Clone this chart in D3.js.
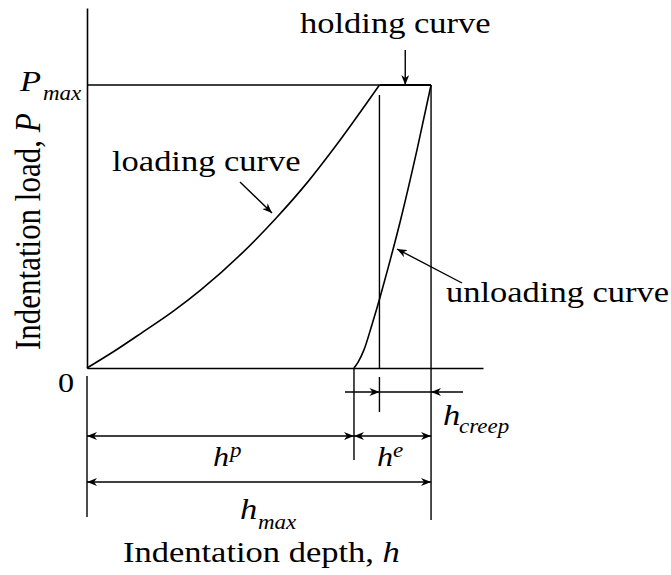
<!DOCTYPE html>
<html>
<head>
<meta charset="utf-8">
<script src="https://cdnjs.cloudflare.com/ajax/libs/d3/7.8.5/d3.min.js"></script>
<style>
  body { margin: 0; background: #fff; }
  text { font-family: "Liberation Serif", "Times New Roman", serif; fill: #000; }
</style>
</head>
<body>
<svg id="chart" width="671" height="575"></svg>
<script>

// curve data, depth in units of h_max, load in units of P_max
var loadDepth = [0, 0.08, 0.16, 0.25, 0.33, 0.45, 0.55, 0.64, 0.72, 0.85];
var loadLoad  = [0, 0.06, 0.125, 0.2, 0.275, 0.405, 0.53, 0.655, 0.78, 1.0];

var holdDepth = [0.85, 1.0];
var holdLoad  = [1.0, 1.0];

var unloadDepth = [0.776, 0.788, 0.805, 0.828, 0.852, 0.875, 0.91, 0.959, 1.0];
var unloadLoad  = [0, 0.021, 0.064, 0.152, 0.251, 0.353, 0.516, 0.77, 1.0];

// key depths / loads
var hp = 0.776, hHold = 0.85, hmax = 1.0, pmax = 1.0;

window.addEventListener('load', drawChart);

function drawChart() {
    var svg = d3.select('#chart');

    var x = d3.scaleLinear().domain([0, 1.151]).range([87, 483]);
    var y = d3.scaleLinear().domain([0, 1.272]).range([368, 8]);

    // arrow head
    svg.append('defs').append('marker')
        .attr('id', 'head')
        .attr('viewBox', '0 0 10 8')
        .attr('refX', 10).attr('refY', 4)
        .attr('markerWidth', 10).attr('markerHeight', 8)
        .attr('markerUnits', 'userSpaceOnUse')
        .attr('orient', 'auto-start-reverse')
        .append('path').attr('d', 'M0,0 L10,4 L0,8 L3,4 z').attr('fill', '#000');

    // axes without ticks
    svg.append('g').attr('transform', 'translate(0,' + y(0) + ')')
        .call(d3.axisBottom(x).tickValues([]).tickSizeOuter(0))
        .select('.domain').attr('stroke-width', 1.6);
    svg.append('g').attr('transform', 'translate(' + x(0) + ',0)')
        .call(d3.axisLeft(y).tickValues([]).tickSizeOuter(0))
        .select('.domain').attr('stroke-width', 1.6);

    var lines = svg.append('g').attr('stroke', '#000').attr('stroke-width', 1.4).attr('fill', 'none');

    function seg(x1, y1, x2, y2, a1, a2) {
        var l = lines.append('line').attr('x1', x1).attr('y1', y1).attr('x2', x2).attr('y2', y2);
        if (a1) l.attr('marker-start', 'url(#head)');
        if (a2) l.attr('marker-end', 'url(#head)');
        return l;
    }

    // P_max reference line
    seg(x(0), y(pmax), x(hHold), y(pmax));

    // curves
    var line = d3.line().x(d => x(d[0])).y(d => y(d[1])).curve(d3.curveMonotoneX);
    lines.append('path').attr('d', line(d3.zip(loadDepth, loadLoad))).attr('stroke-width', 1.6);
    lines.append('path').attr('d', line(d3.zip(holdDepth, holdLoad))).attr('stroke-width', 1.8);
    lines.append('path').attr('d', line(d3.zip(unloadDepth, unloadLoad))).attr('stroke-width', 1.6);

    // extension lines
    seg(x(0), y(0) + 8, x(0), 517);
    seg(x(hp), y(0), x(hp), 460);
    seg(x(hHold), y(pmax) + 10, x(hHold), y(0));
    seg(x(hHold), y(0) + 9, x(hHold), 412);
    seg(x(hmax), y(pmax), x(hmax), 520);

    // dimension arrows
    seg(x(hp) - 9, 392, x(hHold), 392, false, true);
    seg(x(hHold), 392, x(hmax), 392);
    seg(x(hmax) + 32, 392, x(hmax), 392, false, true);
    seg(x(0), 436, x(hp), 436, true, true);
    seg(x(hp), 436, x(hmax), 436, true, true);
    seg(x(0), 482, x(hmax), 482, true, true);

    // leaders
    seg(x((hHold + hmax) / 2), 50, x((hHold + hmax) / 2), y(pmax), false, true);
    seg(240, 182, 272, 213, false, true);
    seg(462, 283, 397, 249, false, true);

    // text helper, glyphs slightly widened like the reference
    function label(tx, ty, str, size, italic) {
        return svg.append('text')
            .attr('transform', 'translate(' + tx + ',' + ty + ') scale(1.15,1)')
            .attr('font-size', size)
            .attr('font-style', italic ? 'italic' : 'normal')
            .text(str);
    }

    label(300, 33, 'holding curve', 30);
    label(112, 171, 'loading curve', 30);
    label(446, 302, 'unloading curve', 30);

    label(20, 91, 'P', 30, true);
    label(43, 100, 'max', 20, true);
    label(58, 392, '0', 28);

    label(213, 466, 'h', 28, true);
    label(230, 457, 'p', 20, true);
    label(377, 466, 'h', 28, true);
    label(393, 457, 'e', 20, true);
    label(240, 519, 'h', 30, true);
    label(258, 529, 'max', 20, true);
    label(443, 425, 'h', 30, true);
    label(459, 433, 'creep', 20, true);

    var xl = label(123, 562, 'Indentation depth, ', 30);
    xl.append('tspan').attr('font-style', 'italic').text('h');

    var yl = svg.append('text')
        .attr('transform', 'translate(40,350) scale(1.15,1) rotate(-90)')
        .attr('font-size', 31)
        .text('Indentation load, ');
    yl.append('tspan').attr('font-style', 'italic').text('P');
}
</script>
</body>
</html>
